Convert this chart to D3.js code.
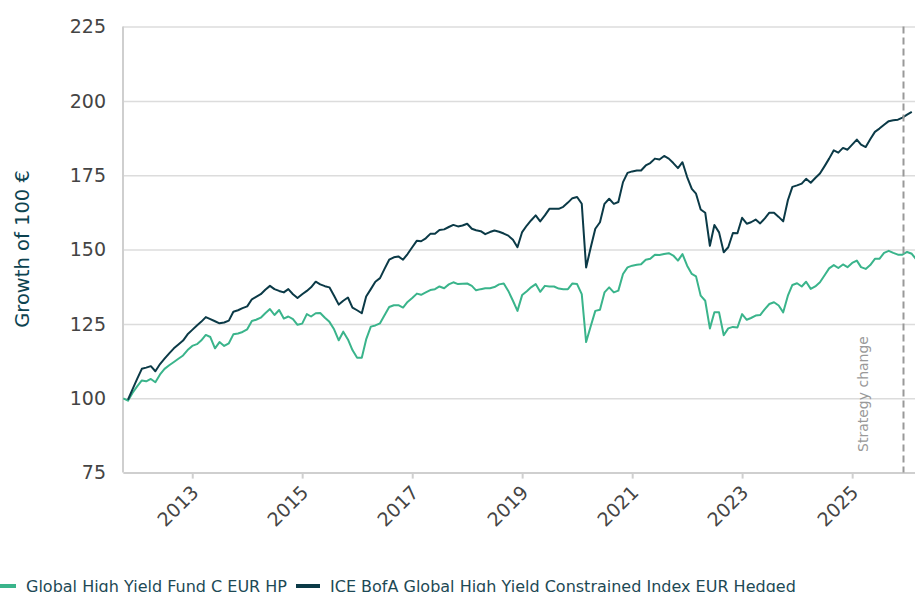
<!DOCTYPE html>
<html>
<head>
<meta charset="utf-8">
<script src="https://cdn.jsdelivr.net/npm/d3@7"></script>
<style>
body { margin: 0; overflow: hidden; background: #fff; }
svg { display: block; font-family: "DejaVu Sans", sans-serif; }
</style>
</head>
<body>
<svg id="chart" width="915" height="592"></svg>
<script>
// monthly values, growth of 100 EUR
fundStart = "2011-10-01";
fundValues = [
  100, 99.2, 101.8, 104, 106, 105.7, 106.5, 105.4, 108, 109.9, 111.1, 112.2,
  113.3, 114.4, 116.2, 117.6, 118.2, 119.4, 121.3, 120.6, 116.8, 118.9, 117.6, 118.5,
  121.5, 121.8, 122.3, 123.2, 126, 126.4, 127.1, 128.6, 130, 128, 129.7, 126.8,
  127.5, 126.6, 124.7, 125.1, 128.3, 127.5, 128.6, 128.7, 127.1, 125.7, 123.2, 119.5,
  122.4, 119.8, 116.2, 113.6, 113.6, 119.8, 124.1, 124.5, 125.2, 127.9, 130.7, 131.3,
  131.3, 130.5, 132.4, 133.7, 135.2, 134.8, 135.6, 136.4, 136.7, 137.6, 137, 138.3,
  139, 138.4, 138.5, 138.6, 137.8, 136.3, 136.7, 137, 137, 137.4, 138.3, 138.6,
  136.1, 132.8, 129.4, 134.7, 136, 137.3, 138.4, 135.8, 137.8, 137.6, 137.6, 136.9,
  136.7, 136.7, 138.6, 138.4, 135, 118.9, 124.3, 129.4, 129.8, 135.6, 137.3, 135.6,
  136.2, 141.8, 144, 144.6, 144.9, 145.1, 146.6, 146.9, 148.3, 148.2, 148.5, 148.8,
  148, 146.3, 148.5, 144.6, 141.8, 141, 134.5, 132.8, 123.5, 128.9, 128.9, 121.2,
  123.5, 124, 123.8, 128.3, 126.4, 127, 127.8, 128, 130, 131.7, 132.3, 131.2,
  128.9, 134.5, 138.1, 138.7, 137.6, 139.2, 136.8, 137.6, 139, 141.3, 143.7, 144.8,
  143.8, 145, 144.1, 145.5, 146.3, 144.1, 143.5, 144.8, 146.9, 146.9, 148.9, 149.6,
  148.9, 148.3, 148.3, 149.2, 148.6, 146.8
];
indexStart = "2011-11-01";
indexValues = [
  99.5, 103, 106.5, 109.9, 110.3, 110.8, 109.1, 111.5, 113.3, 115.1, 116.8,
  118.1, 119.4, 121.5, 123, 124.5, 125.7, 127.3, 126.6, 125.9, 125.2, 125.5, 126.1,
  129.1, 129.6, 130.3, 130.9, 133.3, 134.1, 135, 136.5, 137.8, 136.7, 136.1, 135.6,
  136.7, 135, 133.7, 135, 136.1, 137.3, 139.2, 138.3, 137.7, 137.3, 134.5, 131.5,
  132.8, 133.9, 130.5, 129.6, 128.6, 134.2, 136.7, 139.2, 140.4, 143.5, 146.6, 147.4,
  147.7, 146.6, 148.5, 150.8, 153, 152.8, 153.8, 155.3, 155.3, 156.6, 156.8, 157.6,
  158.3, 157.8, 158.1, 158.7, 157, 156.5, 156.2, 155.2, 155.9, 156.4, 156, 155.4,
  154.7, 153.3, 150.8, 155.9, 158.1, 159.8, 161.5, 159.5, 161.5, 163.7, 163.7, 163.7,
  164.4, 165.8, 167.3, 167.7, 165.4, 144, 150.8, 157, 159.2, 165.4, 167.1, 165.4,
  166, 172.7, 175.8, 176.3, 176.6, 176.6, 178.3, 179.1, 180.6, 180.3, 181.5, 180.6,
  179.1, 177.4, 179.4, 174.4, 170.4, 168.8, 163.5, 162.4, 151.3, 158.3, 155.8, 149.1,
  150.8, 155.6, 155.5, 160.7, 158.7, 159.2, 160.1, 158.8, 160.5, 162.4, 162.4, 161,
  159.5, 166.6, 171.1, 171.6, 172.2, 173.8, 172.5, 174.1, 175.6, 178, 180.6, 183.4,
  182.6, 184.2, 183.6, 185.3, 187, 185.3, 184.5, 187.1, 189.6, 190.7, 192, 193.2,
  193.5, 193.7, 194.4, 195.4, 196.3
];
seriesNames = ["Global High Yield Fund C EUR HP", "ICE BofA Global High Yield Constrained Index EUR Hedged"];
seriesColours = ["#3ab48b", "#0b3a47"];
yTickValues = [75, 100, 125, 150, 175, 200, 225];
xTickYears = [2013, 2015, 2017, 2019, 2021, 2023, 2025];
strategyDate = "2025-12-08";
strategyLabel = "Strategy change";
yTitle = "Growth of 100 €";

width = 915;
height = 592;
plotLeft = 123;
plotTop = 26.6;
plotBottom = 472.6;
fontFamily = "DejaVu Sans, sans-serif";

function toSeries(start, values) {
    s = new Date(start + "T00:00:00Z");
    return values.map((v, i) => {
        return {date: d3.utcMonth.offset(s, i), value: v};
    });
}
fund = toSeries(fundStart, fundValues);
index = toSeries(indexStart, indexValues);

x = d3.scaleUtc()
    .domain([new Date("2011-10-01T00:00:00Z"), new Date("2026-03-01T00:00:00Z")])
    .range([123.3, 916]);
y = d3.scaleLinear()
    .domain([75, 225])
    .range([plotBottom, plotTop]);

svg = d3.select("#chart");

// y axis with gridlines
yAxis = svg.append("g")
    .attr("transform", "translate(" + plotLeft + ",0)")
    .call(d3.axisLeft(y)
        .tickValues(yTickValues)
        .tickSize(-(width - plotLeft))
        .tickPadding(17))
    .attr("font-family", fontFamily)
    .attr("font-size", 19);
yAxis.select(".domain").remove();
yAxis.selectAll(".tick line")
    .attr("stroke", "#dcdcdc")
    .attr("stroke-width", 1.5);
yAxis.selectAll(".tick text")
    .attr("fill", "#444");

// left axis line
svg.append("line")
    .attr("x1", plotLeft).attr("x2", plotLeft)
    .attr("y1", plotTop).attr("y2", plotBottom)
    .attr("stroke", "#cfcfcf")
    .attr("stroke-width", 2);

// x axis
xAxis = svg.append("g")
    .attr("transform", "translate(0," + plotBottom + ")")
    .call(d3.axisBottom(x)
        .tickValues(xTickYears.map((yr) => new Date(Date.UTC(yr, 0, 1))))
        .tickFormat(d3.utcFormat("%Y"))
        .tickSizeInner(6)
        .tickSizeOuter(0))
    .attr("font-family", fontFamily)
    .attr("font-size", 19);
xAxis.select(".domain")
    .attr("stroke", "#cfcfcf")
    .attr("stroke-width", 2);
xAxis.selectAll(".tick line")
    .attr("stroke", "#cfcfcf")
    .attr("stroke-width", 2);
xAxis.selectAll(".tick text")
    .attr("fill", "#444")
    .attr("text-anchor", "end")
    .attr("dy", null)
    .attr("y", null)
    .attr("transform", "translate(7,21) rotate(-45)");

// y title
svg.append("text")
    .attr("transform", "translate(29,249) rotate(-90)")
    .attr("text-anchor", "middle")
    .attr("fill", "#0d4350")
    .style("font-size", "19.5px")
    .text(yTitle);

// lines
line = d3.line()
    .x((d) => x(d.date))
    .y((d) => y(d.value));
svg.append("path")
    .datum(fund)
    .attr("d", line)
    .attr("fill", "none")
    .attr("stroke", seriesColours[0])
    .attr("stroke-width", 2)
    .attr("stroke-linejoin", "round");
svg.append("path")
    .datum(index)
    .attr("d", line)
    .attr("fill", "none")
    .attr("stroke", seriesColours[1])
    .attr("stroke-width", 2)
    .attr("stroke-linejoin", "round");

// strategy change marker
sx = x(new Date(strategyDate + "T00:00:00Z"));
svg.append("line")
    .attr("x1", sx).attr("x2", sx)
    .attr("y1", plotTop).attr("y2", plotBottom)
    .attr("stroke", "#999")
    .attr("stroke-width", 2)
    .attr("stroke-dasharray", "7,4");
svg.append("text")
    .attr("transform", "translate(" + (sx - 36) + ",452) rotate(-90)")
    .attr("fill", "#999")
    .style("font-size", "14px")
    .text(strategyLabel);

// legend
legendX = [-8, 296];
legend = svg.selectAll("g.legend")
    .data(seriesNames).enter()
    .append("g")
    .attr("class", "legend")
    .attr("transform", (d, i) => {
        return "translate(" + legendX[i] + ",586)";
    });
legend.append("rect")
    .attr("y", -2)
    .attr("width", 24)
    .attr("height", 4)
    .attr("fill", (d, i) => seriesColours[i]);
legend.append("text")
    .attr("x", 34)
    .attr("dy", "0.35em")
    .attr("fill", "#1d4955")
    .style("font-size", "16px")
    .text((d) => d);
</script>
</body>
</html>
